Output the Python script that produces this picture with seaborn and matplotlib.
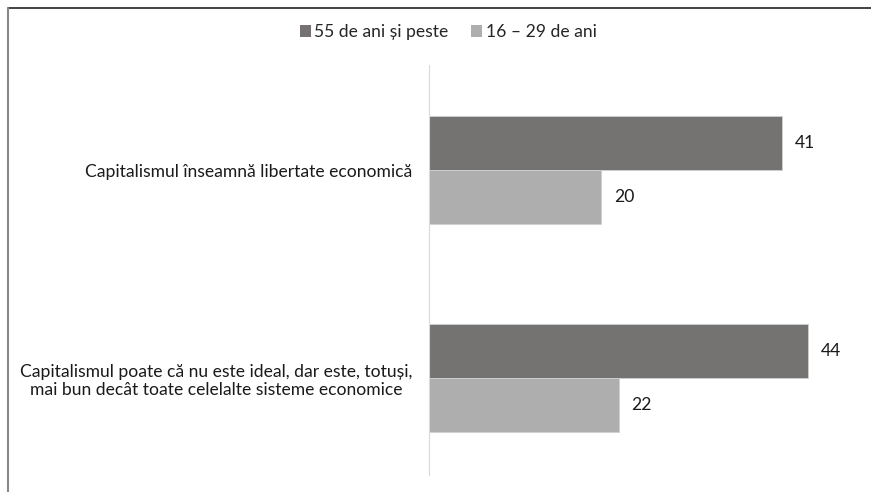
import matplotlib
matplotlib.use("Agg")
import matplotlib.pyplot as plt
import seaborn as sns
import pandas as pd
from matplotlib.lines import Line2D
from matplotlib.patches import Patch

categories = [
    "Capitalismul înseamnă libertate economică",
    "Capitalismul poate că nu este ideal, dar este, totuși,\nmai bun decât toate celelalte sisteme economice",
]
series_names = ["55 de ani și peste", "16 – 29 de ani"]
values_55 = [41, 44]
values_16 = [20, 22]
colors = ["#767171", "#AEAEAE"]

df = pd.DataFrame({
    "cat": categories * 2,
    "grp": [series_names[0]] * 2 + [series_names[1]] * 2,
    "val": values_55 + values_16,
})

sns.set_theme(style="white")
plt.rcParams["font.family"] = ["Lato", "DejaVu Sans"]
FS = 12.6

fig = plt.figure(figsize=(8.71, 4.92), dpi=100)
ax = fig.add_axes([429 / 871, 1 - 475 / 492, (860 - 429) / 871, (475 - 65) / 492])

sns.barplot(data=df, y="cat", x="val", hue="grp", orient="h",
            palette=colors, width=0.52, ax=ax, legend=False,
            edgecolor="#D0D0D0", linewidth=0.6)

for cont in ax.containers:
    ax.bar_label(cont, padding=9, fontsize=FS, color="#1a1a1a")

ax.set_xlim(0, 50)
ax.set_ylim(1.466, -0.505)
ax.set_xlabel("")
ax.set_ylabel("")
ax.set_xticks([])
ax.tick_params(axis="y", length=0, pad=12, labelsize=FS, labelcolor="#1a1a1a")
for lbl in ax.get_yticklabels():
    lbl.set_horizontalalignment("right")
    lbl.set_multialignment("center")

for s in ["top", "right", "bottom"]:
    ax.spines[s].set_visible(False)
ax.spines["left"].set_color("#D9D9D9")
ax.spines["left"].set_linewidth(0.8)

handles = [Patch(facecolor=c, edgecolor="none") for c in colors]
fig.legend(handles, series_names, loc="center", bbox_to_anchor=(448 / 871, 1 - 32 / 492),
           ncol=2, frameon=False, fontsize=FS, handlelength=0.65, handleheight=0.65,
           handletextpad=0.18, columnspacing=1.3)

# figure border (top dark, left gray)
fig.add_artist(Line2D([8 / 871, 1], [1 - 8 / 492, 1 - 8 / 492], transform=fig.transFigure,
                      color="#222222", linewidth=1.2))
fig.add_artist(Line2D([8 / 871, 8 / 871], [0, 1 - 8 / 492], transform=fig.transFigure,
                      color="#888888", linewidth=1.5))

fig.savefig("out.png", dpi=100)
